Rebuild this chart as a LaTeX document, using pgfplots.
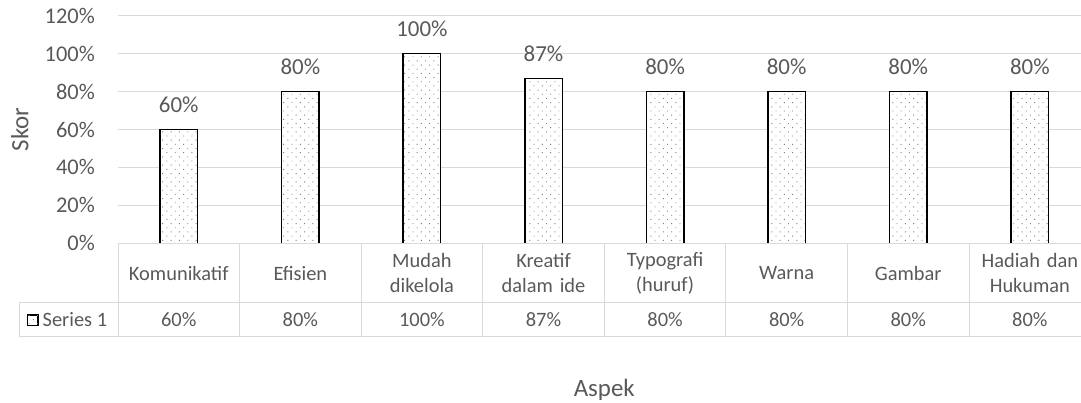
\documentclass[border=0pt]{standalone}
\usepackage{pgfplots}
\pgfplotsset{compat=1.18}
\usepackage{pgfplotstable}
\usepackage{fontspec}
\setmainfont{Carlito}
\usetikzlibrary{patterns.meta}

\definecolor{txt}{HTML}{595959}
\definecolor{gridc}{HTML}{D9D9D9}

% Skor per aspek (persen)
\pgfplotstableread{
x val
0 60
1 80
2 100
3 87
4 80
5 80
6 80
7 80
}\skor

\tikzset{
  dotfill/.style={pattern={Dots[radius=0.65bp,distance=5.9bp,angle=45]}, pattern color=black!50},
}

\begin{document}
\begin{tikzpicture}
\useasboundingbox (0,0) rectangle (1081bp,403bp);
\begin{axis}[
  at={(118bp,159.7bp)}, anchor=south west,
  scale only axis, width=972.6bp, height=227.6bp,
  xmin=-0.5, xmax=7.5, ymin=0, ymax=120,
  axis line style={draw=none},
  clip=false,
  major tick length=0pt,
  ytick={0,20,...,120},
  ymajorgrids, grid style={gridc, line width=1bp},
  /pgf/number format/assume math mode=true,
  yticklabel={\pgfmathprintnumber{\tick}\%},
  yticklabel style={font=\fontsize{22.5}{27}\selectfont, text=txt, inner sep=0pt, xshift=-23bp},
  xtick={0,...,7},
  xticklabels={Komunikatif, Efisien, {Mudah\\dikelola}, {Kreatif\\dalam ide}, {Typografi\\(huruf)}, Warna, Gambar, {Hadiah dan\\Hukuman}},
  xticklabel style={font=\fontsize{20.5}{25}\selectfont, text=txt, anchor=center, yshift=-29.85bp, align=center, text width=118bp, inner sep=0pt},
  ylabel={Skor},
  ylabel style={at={(axis description cs:-0.0922,0.5)}, anchor=base, rotate=0, font=\fontsize{25}{30}\selectfont, text=txt},
  xlabel={Aspek},
  xlabel style={at={(axis description cs:0.5,-0.674)}, anchor=base, font=\fontsize{25}{30}\selectfont, text=txt},
]
% white body of the bars, hiding the gridlines
\addplot[ybar, bar width=37.5bp, fill=white, draw=none, forget plot] table[x=x, y=val]{\skor};
% dotted fill with black outline
\addplot[ybar, bar width=37.5bp, draw=black, line width=1.5bp, dotfill, forget plot] table[x=x, y=val]{\skor};
% value labels above the bars
\addplot[draw=none, mark=none, point meta=y,
  nodes near coords={\pgfmathprintnumber{\pgfplotspointmeta}\%},
  nodes near coords style={font=\fontsize{23}{27}\selectfont, text=txt, inner sep=0pt, anchor=south, yshift=16.5bp}]
  table[x=x, y=val]{\skor};
\end{axis}

% data table under the plot
\begin{scope}[x=1bp, y=1bp]
  \draw[gridc, line width=1bp] (118,159.7) -- (1090.6,159.7);
  \draw[gridc, line width=1bp] (19,100) -- (1090.6,100);
  \draw[gridc, line width=1bp] (19,66) -- (1090.6,66);
  \draw[gridc, line width=1bp] (19,100) -- (19,66);
  \foreach \k in {0,...,8}
    \draw[gridc, line width=1bp] ({118+121.575*\k},159.7) -- ({118+121.575*\k},66);
  \foreach \k in {0,...,7}{
    \pgfplotstablegetelem{\k}{val}\of\skor
    \node[font=\fontsize{20.5}{25}\selectfont, text=txt, inner sep=0pt, anchor=center]
      at ({118+121.575*(\k+0.5)},83) {\pgfplotsretval\%};
  }
  % legend key
  \draw[black, line width=1.3bp, fill=white] (27.5,77.5) rectangle (38,88);
  \fill[dotfill] (27.5,77.5) rectangle (38,88);
  \node[font=\fontsize{20.5}{25}\selectfont, text=txt, inner sep=0pt, anchor=west] at (42.5,83) {Series 1};
\end{scope}
\end{tikzpicture}
\end{document}
